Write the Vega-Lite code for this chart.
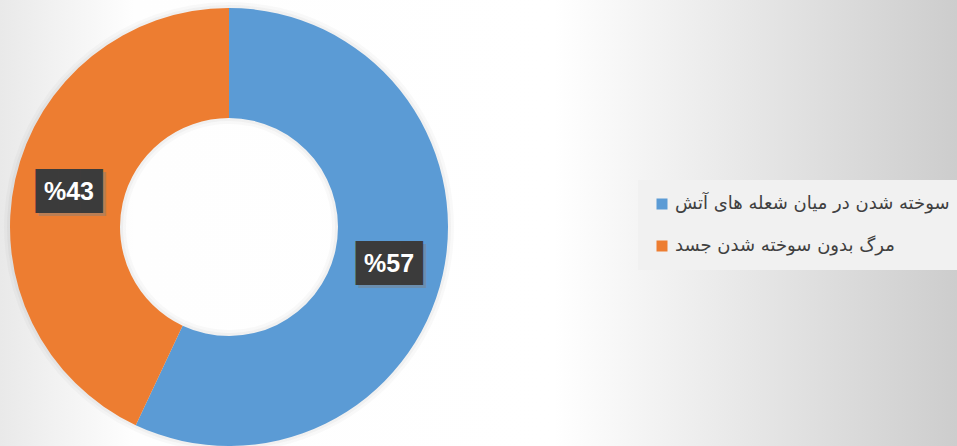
{
  "$schema": "https://vega.github.io/schema/vega-lite/v6.json",
  "width": 957,
  "height": 446,
  "padding": 0,
  "autosize": {"type": "none"},
  "background": "#ffffff",
  "config": {"view": {"stroke": null}},
  "layer": [
    {
      "data": {"values": [{"panel": "background"}]},
      "mark": {
        "type": "rect",
        "fill": {
          "gradient": "linear",
          "x1": 0, "y1": 0, "x2": 1, "y2": 0,
          "stops": [
            {"offset": 0, "color": "#e9e9e9"},
            {"offset": 0.14, "color": "#fefefe"},
            {"offset": 0.58, "color": "#ffffff"},
            {"offset": 1, "color": "#cdcdcd"}
          ]
        }
      },
      "encoding": {}
    },
    {
      "data": {
        "values": [
          {"category": "سوخته شدن در میان شعله های آتش", "value": 57, "label": "%57"},
          {"category": "مرگ بدون سوخته شدن جسد", "value": 43, "label": "%43"}
        ]
      },
      "encoding": {
        "theta": {"field": "value", "type": "quantitative", "stack": true},
        "order": {"field": "value", "sort": "descending"},
        "x": {"value": 229},
        "y": {"value": 227}
      },
      "layer": [
        {
          "mark": {"type": "arc", "innerRadius": 103, "outerRadius": 225, "color": "#000000", "opacity": 0.025},
          "encoding": {}
        },
        {
          "mark": {"type": "arc", "innerRadius": 106, "outerRadius": 222, "color": "#000000", "opacity": 0.03},
          "encoding": {}
        },
        {
          "mark": {"type": "arc", "innerRadius": 109, "outerRadius": 219},
          "encoding": {
            "color": {
              "field": "category",
              "type": "nominal",
              "sort": null,
              "scale": {
                "domain": ["سوخته شدن در میان شعله های آتش", "مرگ بدون سوخته شدن جسد"],
                "range": ["#5b9bd5", "#ed7d31"]
              },
              "legend": {
                "orient": "none",
                "legendX": 638,
                "legendY": 180,
                "title": null,
                "fillColor": "#f1f1f1",
                "padding": 15,
                "symbolType": "square",
                "symbolSize": 121,
                "symbolStrokeWidth": 0,
                "labelFont": "DejaVu Sans",
                "labelFontSize": 18,
                "labelColor": "#404040",
                "labelLimit": 400,
                "rowPadding": 24,
                "labelOffset": 4
              }
            }
          }
        },
        {
          "mark": {"type": "text", "radius": 164, "font": "DejaVu Sans Mono", "fontSize": 37, "color": "#808080", "opacity": 0.45, "dx": 3, "dy": 5, "align": "center", "baseline": "middle"},
          "encoding": {"text": {"value": "███"}}
        },
        {
          "mark": {"type": "text", "radius": 164, "font": "DejaVu Sans Mono", "fontSize": 37, "color": "#3b3b3b", "dy": 2, "align": "center", "baseline": "middle"},
          "encoding": {"text": {"value": "███"}}
        },
        {
          "mark": {"type": "text", "radius": 164, "font": "Liberation Sans", "fontWeight": "bold", "fontSize": 25, "color": "#ffffff", "dy": 1, "align": "center", "baseline": "middle"},
          "encoding": {"text": {"field": "label", "type": "nominal"}}
        }
      ]
    }
  ]
}
